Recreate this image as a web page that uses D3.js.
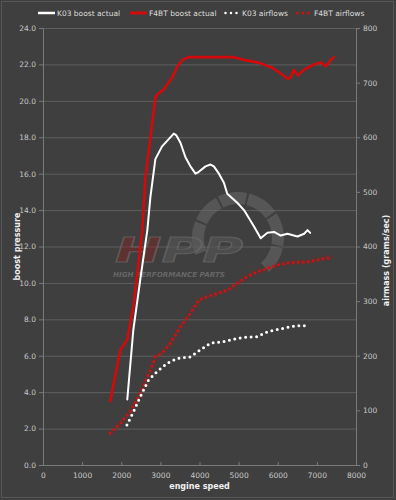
<!DOCTYPE html>
<html><head><meta charset="utf-8">
<script src="https://cdn.jsdelivr.net/npm/d3@7"></script>
<style>
html,body{margin:0;padding:0;background:#3f3f3f;}
svg{display:block;}
</style></head>
<body>
<script>
// ---- data ----
const f4btBoostRpm = [1718,1974,2154,2308,2538,2615,2872,2949,3077,3205,3308,3436,3564,3718,4872,5128,5513,5872,6077,6256,6333,6410,6513,6667,6923,7103,7231,7359,7436];
const f4btBoost    = [3.5,6.3,6.9,8.7,12.9,15.7,20.2,20.4,20.6,21.0,21.3,21.9,22.25,22.4,22.4,22.25,22.1,21.8,21.5,21.2,21.3,21.7,21.4,21.7,22.0,22.1,21.9,22.25,22.4];

const k03BoostRpm = [2154,2308,2487,2667,2744,2872,3043,3214,3342,3410,3513,3641,3769,3897,3983,4154,4282,4367,4496,4624,4709,4966,5137,5393,5564,5736,5906,6077,6248,6504,6675,6761,6829];
const k03Boost    = [3.6,7.4,10.2,12.9,14.7,16.8,17.5,17.9,18.2,18.1,17.7,16.9,16.4,16.0,16.1,16.4,16.5,16.4,16.0,15.5,14.9,14.4,14.0,13.1,12.45,12.75,12.8,12.6,12.7,12.55,12.7,12.9,12.75];

const k03AirRpm = [2145,2316,2487,2701,2915,3171,3427,3769,4026,4282,4624,4966,5222,5479,5736,5992,6248,6504,6692];
const k03Air    = [73,98,125,156,171,186,195,198,211,223,226,232,234,235,244,248,252,255,255];

const f4btAirRpm = [1718,1974,2231,2487,2744,2872,3043,3256,3513,3769,3983,4197,4453,4709,4966,5222,5479,5736,6077,6419,6761,7103,7359];
const f4btAir    = [58,76,98,131,174,198,205,223,253,278,302,308,314,320,333,345,354,360,368,371,372,377,380];

const xTicks = [0,1000,2000,3000,4000,5000,6000,7000,8000];
const yLeftTicks = [0,2,4,6,8,10,12,14,16,18,20,22,24];
const yRightTicks = [0,100,200,300,400,500,600,700,800];
const legendLabels = ["K03 boost actual","F4BT boost actual","K03 airflows","F4BT airflows"];

// ---- layout ----
const W = 396, H = 500;
const L = 43, R = 356, T = 28, B = 465;
const font = "'DejaVu Sans', sans-serif";

const svg = d3.select("body").append("svg").attr("width", W).attr("height", H);
svg.append("rect").attr("x",0).attr("y",0).attr("width",W).attr("height",H).attr("fill","#3f3f3f");
svg.append("rect").attr("x",1.5).attr("y",1.5).attr("width",392).attr("height",496)
  .attr("fill","none").attr("stroke","#575757").attr("stroke-width",1);

const x = d3.scaleLinear().domain([0,8000]).range([L,R]);
const yL = d3.scaleLinear().domain([0,24]).range([B,T]);
const yR = d3.scaleLinear().domain([0,800]).range([B,T]);

// gridlines
svg.append("g").selectAll("line").data(yLeftTicks.filter(d=>d>0)).join("line")
  .attr("x1",L).attr("x2",R).attr("y1",d=>yL(d)+0.5).attr("y2",d=>yL(d)+0.5)
  .attr("stroke","#5f5f5f").attr("stroke-width",1);

// watermark
const wm = svg.append("g");
const arcGen = d3.arc().innerRadius(34).outerRadius(46);
const segs = [[-1.95,-1.2],[-1.15,-0.5],[-0.45,0.2],[0.25,0.95],[1.0,1.75],[1.8,2.4]];
segs.forEach(s=>{
  wm.append("path").attr("d",arcGen({startAngle:s[0],endAngle:s[1]}))
    .attr("transform","translate(238,238)").attr("fill","#6a6a6a").attr("opacity",0.55);
});
wm.append("text").attr("x",115).attr("y",262).attr("font-family",font).attr("font-size",33)
  .attr("font-style","italic").attr("font-weight","bold")
  .attr("textLength",128).attr("lengthAdjust","spacingAndGlyphs")
  .attr("stroke","#707070").attr("stroke-width",1).attr("stroke-opacity",0.6)
  .call(t=>{
    t.append("tspan").attr("fill","#8a2222").attr("fill-opacity",0.45).text("H");
    t.append("tspan").attr("fill","#575757").attr("fill-opacity",0.6).text("PP");
  });
wm.append("text").attr("x",113).attr("y",277).attr("font-family",font).attr("font-size",7)
  .attr("font-style","italic").attr("font-weight","bold").attr("fill","#6e6e6e").attr("opacity",0.85)
  .attr("textLength",112).attr("lengthAdjust","spacingAndGlyphs")
  .text("HIGH PERFORMANCE PARTS");

// axes
const axisColor = "#7a7a7a";
const tickText = "#c8c8c8";
const gx = svg.append("g").attr("transform",`translate(0,${B})`)
  .call(d3.axisBottom(x).tickValues(xTicks).tickFormat(d3.format("d")).tickSize(-3).tickPadding(6));
const gl = svg.append("g").attr("transform",`translate(${L},0)`)
  .call(d3.axisLeft(yL).tickValues(yLeftTicks).tickFormat(d3.format(".1f")).tickSize(4).tickPadding(3));
const gr = svg.append("g").attr("transform",`translate(${R},0)`)
  .call(d3.axisRight(yR).tickValues(yRightTicks).tickFormat(d3.format("d")).tickSize(4).tickPadding(3));
[gx,gl,gr].forEach(g=>{
  g.select(".domain").attr("stroke",axisColor);
  g.selectAll(".tick line").attr("stroke",axisColor);
  g.selectAll(".tick text").attr("fill",tickText).attr("font-family",font).attr("font-size",7.5);
});
gx.selectAll(".tick text").attr("dy","0.9em");

// axis titles
svg.append("text").attr("x",(L+R)/2).attr("y",489).attr("text-anchor","middle")
  .attr("font-family",font).attr("font-size",8).attr("font-weight","bold").attr("fill","#f0f0f0").text("engine speed");
svg.append("text").attr("transform",`translate(20,${(T+B)/2}) rotate(-90)`).attr("text-anchor","middle")
  .attr("font-family",font).attr("font-size",8).attr("font-weight","bold").attr("fill","#f0f0f0").text("boost pressure");
svg.append("text").attr("transform",`translate(389,${(T+B)/2+14}) rotate(-90)`).attr("text-anchor","middle")
  .attr("font-family",font).attr("font-size",8).attr("font-weight","bold").attr("fill","#f0f0f0").text("airmass (grams/sec)");

// series
const red = "#d40a0a";
const lineL = d3.line().x(d=>x(d[0])).y(d=>yL(d[1])).curve(d3.curveLinear);
const lineR = d3.line().x(d=>x(d[0])).y(d=>yR(d[1])).curve(d3.curveLinear);
const zip = (a,b)=>a.map((v,i)=>[v,b[i]]);

// F4BT airflows (red dotted with glow)
svg.append("path").attr("d",lineR(zip(f4btAirRpm,f4btAir))).attr("fill","none")
  .attr("stroke",red).attr("stroke-width",5).attr("opacity",0.15).attr("stroke-linecap","round");
svg.append("path").attr("d",lineR(zip(f4btAirRpm,f4btAir))).attr("fill","none")
  .attr("stroke","#c81414").attr("stroke-width",3).attr("stroke-dasharray","0,5").attr("stroke-linecap","round");
// K03 airflows (white dotted)
svg.append("path").attr("d",lineR(zip(k03AirRpm,k03Air))).attr("fill","none")
  .attr("stroke","#ffffff").attr("stroke-width",3).attr("stroke-dasharray","0,5.5").attr("stroke-linecap","round");
// F4BT boost
svg.append("path").attr("d",lineL(zip(f4btBoostRpm,f4btBoost))).attr("fill","none")
  .attr("stroke",red).attr("stroke-width",2.6).attr("stroke-linejoin","round").attr("stroke-linecap","round");
// K03 boost
svg.append("path").attr("d",lineL(zip(k03BoostRpm,k03Boost))).attr("fill","none")
  .attr("stroke","#ffffff").attr("stroke-width",2).attr("stroke-linejoin","round").attr("stroke-linecap","round");

// legend
const lg = svg.append("g").attr("font-family",font).attr("font-size",7.5).attr("fill","#dddddd");
const items = [
  {x:38, tx:57, style:"solid", color:"#ffffff", w:2.5},
  {x:130, tx:149, style:"solid", color:red, w:3},
  {x:224, tx:242, style:"dot", color:"#ffffff", w:2.5},
  {x:296, tx:314, style:"dot", color:"#c81414", w:3}
];
items.forEach((it,i)=>{
  const ln = lg.append("line").attr("x1",it.x).attr("x2",it.x+17).attr("y1",13).attr("y2",13)
    .attr("stroke",it.color).attr("stroke-width",it.w);
  if(it.style==="dot") ln.attr("x1",it.x+1.5).attr("stroke-dasharray","0,5.5").attr("stroke-linecap","round");
  lg.append("text").attr("x",it.tx).attr("y",15.5).text(legendLabels[i]);
});
</script>
</body></html>
